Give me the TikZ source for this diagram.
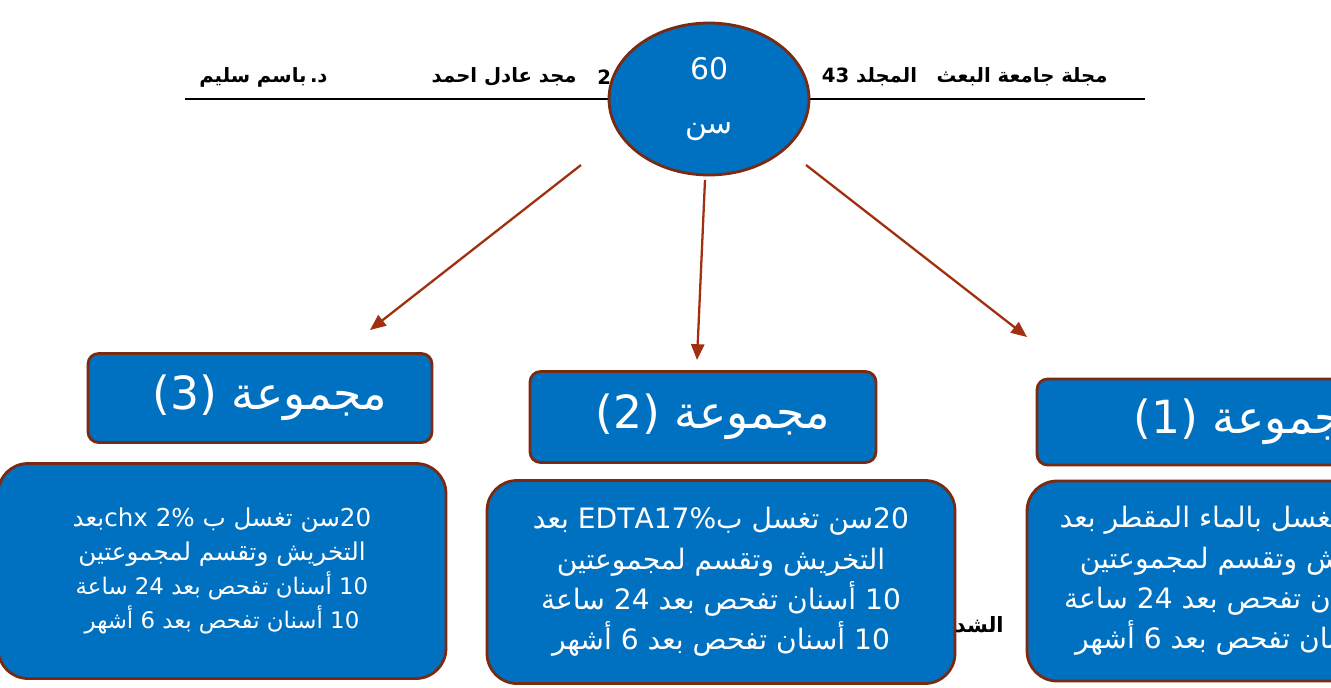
\documentclass[tikz,border=0pt]{standalone}
\usepackage{fontspec}
\usetikzlibrary{arrows.meta}
\usetikzlibrary{positioning}
\usetikzlibrary{shapes.geometric}
\TeXXeTstate=1
\newfontfamily\arabicfont[Script=Arabic]{DejaVu Sans}
\definecolor{boxblue}{HTML}{0070C0}
\definecolor{boxrim}{HTML}{7B2A12}
\definecolor{arrowred}{HTML}{A0300F}

\begin{document}
\begin{tikzpicture}[
		x=0.02cm, y=-0.02cm,
		every node/.style={font=\arabicfont, inner sep=0pt},
		headtext/.style={font=\arabicfont\bfseries\fontsize{11.2}{13}\selectfont, text=black},
		grouphead/.style={draw=boxrim, line width=1.6pt, fill=boxblue, rounded corners=6pt, text=white,
			font=\arabicfont\fontsize{26}{30}\selectfont},
		groupbody/.style={draw=boxrim, line width=1.6pt, fill=boxblue, rounded corners=17pt, text=white,
			align=center, font=\arabicfont\fontsize{16}{23}\selectfont},
		linkarrow/.style={draw=arrowred, line width=1.3pt, -{Triangle[length=9pt, width=7.5pt]}}
	]

	\useasboundingbox (0,0) rectangle (1331,687);
	\clip (0,0) rectangle (1331,687);

	% Page header
	\coordinate (hl) at (185,99);
	\coordinate (hr) at (1145,99);
	\draw[line width=1.1pt] (hl) -- (hr);
	\node[headtext, anchor=east] (journal) at (1108,77) {\beginR مجلة جامعة البعث\quad المجلد \beginL 43\endL\endR};
	\node[headtext, anchor=west] (issue) at (597,77) {2};
	\node[headtext, anchor=east] (author1) at (577,77) {\beginR مجد عادل احمد\endR};
	\node[headtext, anchor=east] (author2) at (328,77) {\beginR د.\hspace{2pt}باسم سليم\endR};

	% Teeth
	\node[ellipse, draw=boxrim, line width=1.6pt, fill=boxblue, text=white, align=center,
		minimum width=4cm, minimum height=3.04cm,
		font=\arabicfont\fontsize{17}{31}\selectfont] (teeth) at (709,99) {60\\\beginR سن\endR};

	% Arrows
	\coordinate (a3s) at (581,165);
	\coordinate (a3e) at (370,330);
	\coordinate (a2s) at (705,180);
	\coordinate (a2e) at (697,360);
	\coordinate (a1s) at (806,165);
	\coordinate (a1e) at (1027,337);
	\draw[linkarrow] (a3s) -- (a3e);
	\draw[linkarrow] (a2s) -- (a2e);
	\draw[linkarrow] (a1s) -- (a1e);

	% Groups
	\node[grouphead, minimum width=6.88cm, minimum height=1.78cm] (g3) at (260,398)
		{\hspace{0.4cm}\beginR مجموعة \beginL(3)\endL\endR};
	\node[grouphead, minimum width=6.92cm, minimum height=1.82cm] (g2) at (703,417)
		{\hspace{0.4cm}\beginR مجموعة \beginL(2)\endL\endR};
	\node[grouphead, minimum width=8.56cm, minimum height=1.72cm] (g1) at (1251,422)
		{\beginR مجموعة \beginL(1)\endL\endR};

	\node[groupbody, minimum width=8.96cm, minimum height=4.3cm, font=\arabicfont\fontsize{14}{19.5}\selectfont] (b3) at (222,571) {%
		\beginR\beginL 20\endL{}سن تغسل ب \beginL 2\%\endL{} \beginL chx\endL{}بعد\endR\\
		\beginR التخريش وتقسم لمجموعتين\endR\\
		\fontsize{13}{20.5}\selectfont\beginR\beginL 10\endL{} أسنان تفحص بعد \beginL 24\endL{} ساعة\endR\\
		\fontsize{13}{20}\selectfont\beginR\beginL 10\endL{} أسنان تفحص بعد \beginL 6\endL{} أشهر\endR};
	\node[groupbody, minimum width=9.36cm, minimum height=4.06cm] (b2) at (721,582) {%
		\beginR\beginL 20\endL{}سن تغسل ب\beginL EDTA17\%\endL{} بعد\endR\\
		\beginR التخريش وتقسم لمجموعتين\endR\\
		\beginR\beginL 10\endL{} أسنان تفحص بعد \beginL 24\endL{} ساعة\endR\\
		\beginR\beginL 10\endL{} أسنان تفحص بعد \beginL 6\endL{} أشهر\endR};

	\node[headtext, font=\arabicfont\bfseries\fontsize{12}{14}\selectfont, anchor=east] (leftover) at (1004,625)
		{\beginR الشد\endR};

	\node[groupbody, minimum width=8.68cm, minimum height=4.0cm] (b1) at (1244,581) {%
		\beginR\beginL 20\endL{}سن تغسل بالماء المقطر بعد\endR\\
		\beginR التخريش وتقسم لمجموعتين\endR\\
		\beginR\beginL 10\endL{} أسنان تفحص بعد \beginL 24\endL{} ساعة\endR\\
		\beginR\beginL 10\endL{} أسنان تفحص بعد \beginL 6\endL{} أشهر\endR};

\end{tikzpicture}
\end{document}
